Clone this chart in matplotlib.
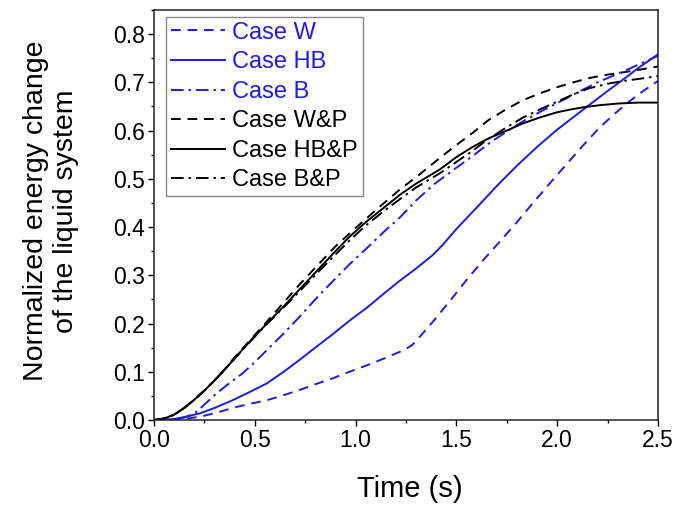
import matplotlib
matplotlib.use('Agg')
import matplotlib.pyplot as plt
from matplotlib.ticker import MultipleLocator

plt.rcParams['font.family'] = ['Liberation Sans', 'DejaVu Sans']

# values
t_w = [0, 0.1, 0.15, 0.23, 0.3, 0.39, 0.47, 0.56, 0.64, 0.72, 0.8, 0.89, 0.97, 1.06, 1.15, 1.24, 1.28,
       1.33, 1.39, 1.47, 1.55, 1.63, 1.72, 1.8, 1.88, 1.96, 2.05, 2.13, 2.21, 2.28, 2.35, 2.42, 2.5]
e_w = [0, 0, 0.002, 0.007, 0.014, 0.025, 0.033, 0.041, 0.051, 0.062, 0.074, 0.087, 0.1, 0.114, 0.129, 0.145, 0.155,
       0.178, 0.207, 0.248, 0.29, 0.33, 0.372, 0.41, 0.45, 0.489, 0.532, 0.57, 0.606, 0.633, 0.658, 0.68, 0.703]

t_hb = [0, 0.1, 0.15, 0.23, 0.3, 0.39, 0.47, 0.56, 0.64, 0.72, 0.8, 0.89, 0.97, 1.06, 1.14, 1.22, 1.3, 1.38,
        1.43, 1.5, 1.6, 1.7, 1.8, 1.9, 2.0, 2.14, 2.25, 2.35, 2.41, 2.5]
e_hb = [0, 0.002, 0.006, 0.014, 0.025, 0.041, 0.057, 0.076, 0.099, 0.124, 0.15, 0.179, 0.206, 0.234, 0.262, 0.289, 0.314, 0.341,
        0.362, 0.396, 0.44, 0.485, 0.527, 0.566, 0.602, 0.647, 0.682, 0.713, 0.732, 0.758]

t_b = [0, 0.1, 0.15, 0.2, 0.25, 0.31, 0.37, 0.44, 0.5, 0.56, 0.64, 0.72, 0.8, 0.89, 0.97, 1.06, 1.14, 1.22,
       1.3, 1.39, 1.5, 1.58, 1.67, 1.75, 1.83, 1.92, 2.0, 2.11, 2.2, 2.33, 2.42, 2.5]
e_b = [0, 0.002, 0.005, 0.013, 0.032, 0.055, 0.075, 0.097, 0.12, 0.145, 0.178, 0.213, 0.25, 0.289, 0.323, 0.358, 0.39, 0.42,
       0.455, 0.489, 0.523, 0.547, 0.576, 0.598, 0.619, 0.64, 0.657, 0.681, 0.70, 0.723, 0.74, 0.755]

t_wp = [0, 0.05, 0.1, 0.15, 0.2, 0.25, 0.3, 0.35, 0.4, 0.48, 0.56, 0.64, 0.72, 0.81, 0.9, 1.0, 1.1, 1.22, 1.32,
        1.42, 1.5, 1.58, 1.66, 1.75, 1.83, 1.92, 2.0, 2.08, 2.16, 2.25, 2.33, 2.42, 2.5]
e_wp = [0, 0.003, 0.011, 0.025, 0.042, 0.061, 0.082, 0.105, 0.13, 0.167, 0.204, 0.242, 0.28, 0.32, 0.36, 0.398, 0.435, 0.478, 0.51,
        0.544, 0.57, 0.595, 0.622, 0.645, 0.663, 0.678, 0.69, 0.70, 0.709, 0.716, 0.721, 0.727, 0.733]

t_hbp = [0, 0.05, 0.1, 0.15, 0.2, 0.25, 0.3, 0.35, 0.4, 0.48, 0.56, 0.64, 0.72, 0.81, 0.9, 0.97, 1.05, 1.14, 1.22,
         1.3, 1.42, 1.5, 1.58, 1.66, 1.75, 1.83, 1.92, 2.0, 2.07, 2.14, 2.22, 2.3, 2.4, 2.5]
e_hbp = [0, 0.003, 0.011, 0.025, 0.042, 0.061, 0.082, 0.104, 0.128, 0.165, 0.2, 0.234, 0.27, 0.31, 0.35, 0.38, 0.41, 0.44, 0.467,
         0.49, 0.52, 0.545, 0.566, 0.584, 0.6, 0.615, 0.628, 0.638, 0.644, 0.649, 0.653, 0.656, 0.658, 0.658]

t_bp = [0, 0.05, 0.1, 0.15, 0.2, 0.25, 0.3, 0.35, 0.4, 0.48, 0.56, 0.64, 0.72, 0.81, 0.9, 0.97, 1.05, 1.14, 1.22,
        1.3, 1.42, 1.5, 1.58, 1.66, 1.75, 1.83, 1.92, 2.0, 2.08, 2.16, 2.25, 2.33, 2.42, 2.5]
e_bp = [0, 0.003, 0.011, 0.025, 0.042, 0.061, 0.082, 0.104, 0.127, 0.164, 0.199, 0.232, 0.266, 0.305, 0.343, 0.372, 0.403, 0.433, 0.458,
        0.482, 0.512, 0.535, 0.558, 0.583, 0.607, 0.627, 0.645, 0.66, 0.675, 0.688, 0.697, 0.703, 0.708, 0.713]

labels = ['Case W', 'Case HB', 'Case B', 'Case W&P', 'Case HB&P', 'Case B&P']

blue = '#1c1ce6'
dash = (5, 3.5)
dashdot = (6.5, 2.5, 1.3, 2.5)

fig = plt.figure(figsize=(6.94, 5.07), dpi=100)
ax = fig.add_axes([0.2219, 0.1716, 0.7262, 0.8087])

ax.plot(t_w, e_w, color=blue, lw=1.4, dashes=dash, label=labels[0])
ax.plot(t_hb, e_hb, color=blue, lw=1.4, label=labels[1])
ax.plot(t_b, e_b, color=blue, lw=1.4, dashes=dashdot, label=labels[2])
ax.plot(t_wp, e_wp, color='black', lw=1.4, dashes=dash, label=labels[3])
ax.plot(t_hbp, e_hbp, color='black', lw=1.4, label=labels[4])
ax.plot(t_bp, e_bp, color='black', lw=1.4, dashes=dashdot, label=labels[5])

ax.set_xlim(0, 2.5)
ax.set_ylim(0, 0.85)
ax.xaxis.set_major_locator(MultipleLocator(0.5))
ax.xaxis.set_minor_locator(MultipleLocator(0.25))
ax.yaxis.set_major_locator(MultipleLocator(0.1))
ax.yaxis.set_minor_locator(MultipleLocator(0.05))
ax.xaxis.set_major_formatter(plt.FormatStrFormatter('%.1f'))
ax.yaxis.set_major_formatter(plt.FormatStrFormatter('%.1f'))
ax.tick_params(which='major', direction='out', length=4.5, width=1, labelsize=16.5, pad=2)
ax.tick_params(which='minor', direction='out', length=2.5, width=1)
for s in ax.spines.values():
    s.set_linewidth(1.1)
    s.set_color('#222222')

ax.set_xlabel('Time (s)', fontsize=21)
ax.set_ylabel('Normalized energy change\nof the liquid system', fontsize=20.5, linespacing=1.2)
ax.xaxis.set_label_coords(0.508, -0.135)
ax.yaxis.set_label_coords(-0.148, 0.51)

leg = ax.legend(loc='upper left', bbox_to_anchor=(0.024, 0.983), borderaxespad=0,
                fontsize=17, handlelength=2.3, handletextpad=0.3, labelspacing=0.32,
                borderpad=0.2, fancybox=False, framealpha=1, edgecolor='#888888')
leg.get_frame().set_linewidth(1)
for txt, lab in zip(leg.get_texts(), labels):
    if '&' not in lab:
        txt.set_color(blue)

fig.savefig('out.png', dpi=100)
